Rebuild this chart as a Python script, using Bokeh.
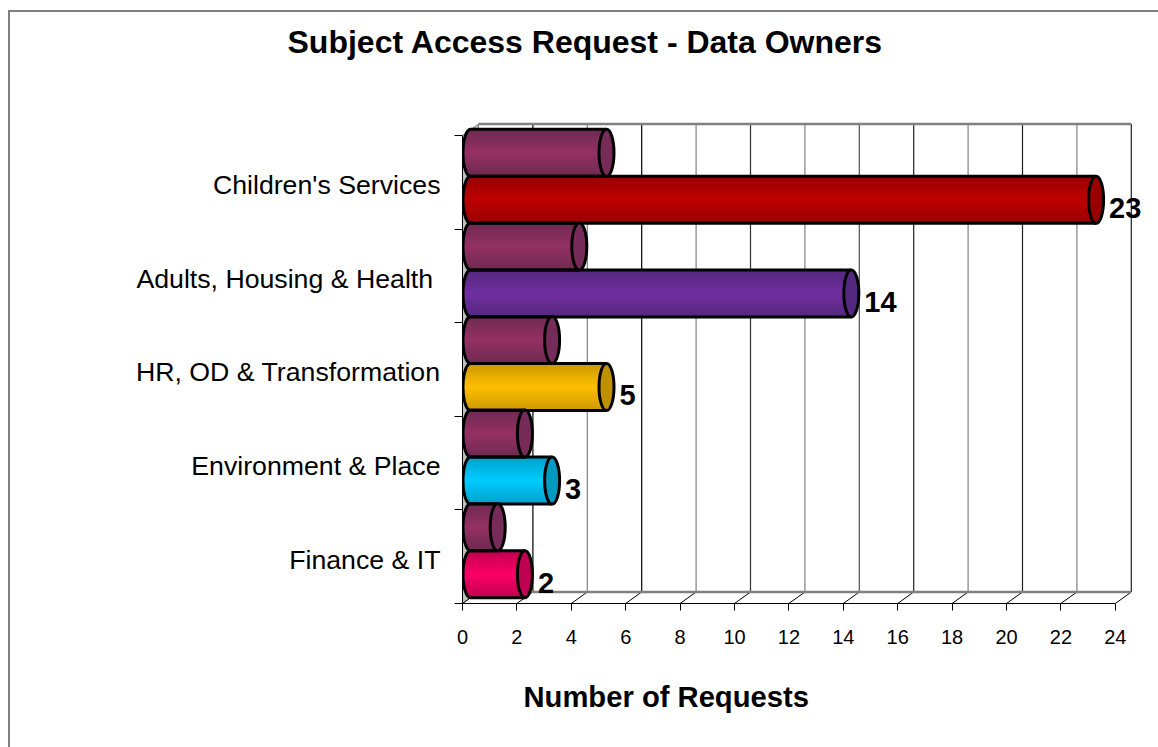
import numpy as np
from bokeh.core.properties import value
from bokeh.embed import file_html
from bokeh.models import FixedTicker, InlineStyleSheet, Range1d, Title, LinearAxis
from bokeh.plotting import figure
from bokeh.resources import INLINE

# ---- data ----
categories = ["Finance & IT", "Environment & Place", "HR, OD & Transformation",
              "Adults, Housing & Health ", "Children's Services"]
requests = [2, 3, 5, 14, 23]
second_series = [1, 2, 3, 4, 5]
x_ticks = list(range(0, 25, 2))
chart_title = "Subject Access Request - Data Owners"
x_title = "Number of Requests"

# ---- styles: (edge, centre, cap) ----
main_colors = [("#bf0050", "#ff0066", "#c00050"),
               ("#00a2cc", "#00ccff", "#0099c0"),
               ("#cc9900", "#ffc000", "#bf9000"),
               ("#55287f", "#7030a0", "#55287f"),
               ("#990000", "#c00000", "#990000")]
plum_colors = ("#6f2a52", "#953163", "#772b58")
grid_colors = ["#000000", "#808080", "#000000", "#808080", "#303030", "#808080",
               "#505050", "#202020", "#808080", "#202020", "#808080", "#202020"]

W, H = 1158, 747
LEFT, BOTTOM, TOP = 462, 144, 80
PX = 27.2            # px per request
PY = 93.6            # px per category band
DX, DY = 16 / PX, 11.5 / PY       # 3D depth of the box
CX, AX = 8 / PX, 7.5 / PX         # cap centre offset and half width
HH = 23.5 / PY       # half height of a cylinder
MAIN_Y, PLUM_Y = 0.313, 0.815
FRAME_W, FRAME_H = W - LEFT, H - BOTTOM - TOP
N = 26


def hexrgb(c):
    return np.array([int(c[i:i + 2], 16) for i in (1, 3, 5)], float)


def mix(a, b, t):
    r = hexrgb(a) * (1 - t) + hexrgb(b) * t
    return "#%02x%02x%02x" % tuple(int(round(v)) for v in r)


p = figure(width=W, height=H, output_backend="svg", toolbar_location=None,
           x_range=Range1d(0, FRAME_W / PX), y_range=Range1d(0, FRAME_H / PY),
           min_border_left=LEFT, min_border_right=0,
           min_border_top=TOP, min_border_bottom=BOTTOM,
           x_axis_location=None, y_axis_location=None, outline_line_color=None,
           background_fill_color=None, border_fill_color="white")
p.grid.visible = False
p.stylesheets = [InlineStyleSheet(css=":host{position:relative;}"
                 ":host::after{content:'';position:absolute;z-index:100;left:8px;top:10px;right:0;bottom:0;"
                 "border-left:2.5px solid #808080;border-top:2.5px solid #808080;pointer-events:none;}")]

xaxis = LinearAxis(ticker=FixedTicker(ticks=x_ticks), bounds=(0, 24))
xaxis.major_tick_in = 0
xaxis.major_tick_out = 7
xaxis.minor_tick_out = 0
xaxis.minor_tick_in = 0
xaxis.major_label_standoff = 19
xaxis.major_label_text_font = "Liberation Sans"
xaxis.major_label_text_font_size = "20px"
xaxis.major_label_text_color = "black"
xaxis.axis_line_color = "black"
xaxis.major_tick_line_color = "black"
p.add_layout(xaxis, "below")

centers = [k + 0.47 for k in range(len(categories))]
yaxis = LinearAxis(ticker=FixedTicker(ticks=centers, minor_ticks=list(range(len(categories) + 1))),
                   bounds=(0, len(categories)))
yaxis.major_label_overrides = dict(zip(centers, categories))
yaxis.major_tick_in = 0
yaxis.major_tick_out = 0
yaxis.minor_tick_in = 0
yaxis.minor_tick_out = 8
yaxis.minor_tick_line_color = "black"
yaxis.major_label_standoff = 14
yaxis.major_label_text_font = "Liberation Sans"
yaxis.major_label_text_font_size = "26.7px"
yaxis.major_label_text_color = "black"
yaxis.axis_line_color = "black"
p.add_layout(yaxis, "left")

# ---- box: left wall, back grid, floor ----
top = len(categories) + DY
p.patch([0, DX, DX, 0], [0, DY, top, len(categories)], fill_color="#c0c0c0",
        line_color="#808080", line_width=1)
gx = [v for v in x_ticks if v > 0]
p.segment(x0=[v + DX for v in gx], y0=[DY] * len(gx), x1=[v + DX for v in gx], y1=[top] * len(gx),
          line_color=grid_colors, line_width=1.2)
p.segment(x0=x_ticks, y0=[0] * len(x_ticks), x1=[v + DX for v in x_ticks], y1=[DY] * len(x_ticks),
          line_color="black", line_width=1)
p.segment(x0=[DX, DX], y0=[DY, top], x1=[24 + DX, 24 + DX], y1=[DY, top],
          line_color="#808080", line_width=2.5)

# ---- cylinders (nested strips, outermost first, give a smooth shading) ----
sx0, sx1, sy, sh, sc, caps_x, caps_y, caps_c, ox, oy = [], [], [], [], [], [], [], [], [], []
for k in reversed(range(len(categories))):
    for val, yoff, cols in ((second_series[k], PLUM_Y, plum_colors),
                            (requests[k], MAIN_Y, main_colors[k])):
        yc = k + yoff
        cx0, cx1 = CX, val + CX
        for i in range(N):
            t = 1 - i / N
            sx0.append(cx0 - AX * np.sqrt(1 - (t - 0.5 / N) ** 2))
            sx1.append(cx1)
            sy.append(yc)
            sh.append(2 * HH * t)
            sc.append(mix(cols[0], cols[1], 1 - t))
        caps_x.append(cx1)
        caps_y.append(yc)
        caps_c.append(cols[2])
        th = np.linspace(-np.pi / 2, np.pi / 2, 40)
        ox.append([cx1] + list(cx0 - AX * np.cos(th)) + [cx1])
        oy.append([yc + HH] + list(yc - HH * np.sin(th)) + [yc - HH])

p.hbar(y=sy, left=sx0, right=sx1, height=sh, fill_color=sc, line_color=None)
p.multi_line(xs=ox, ys=oy, line_color="black", line_width=3)
p.ellipse(x=caps_x, y=caps_y, width=2 * AX, height=2 * HH, fill_color=caps_c,
          line_color="black", line_width=3)

# ---- value labels ----
p.text(x=[v + 21 / PX for v in requests], y=[k + MAIN_Y - 0.09 for k in range(len(requests))],
       text=[str(v) for v in requests], text_font=value("Liberation Sans"),
       text_font_style="bold", text_font_size="29px", text_baseline="middle",
       text_align="left", text_color="black")

# ---- titles ----
p.add_layout(Title(text=chart_title, align="left", offset=-175, standoff=41,
                   text_font="Liberation Sans", text_font_style="bold",
                   text_font_size="32px", text_color="black"), "above")
p.add_layout(Title(text=x_title, align="left", offset=61, standoff=65, vertical_align="bottom",
                   text_font="Liberation Sans", text_font_style="bold",
                   text_font_size="29.2px", text_color="black"), "below")

open("out.html", "w").write(file_html(p, INLINE))
